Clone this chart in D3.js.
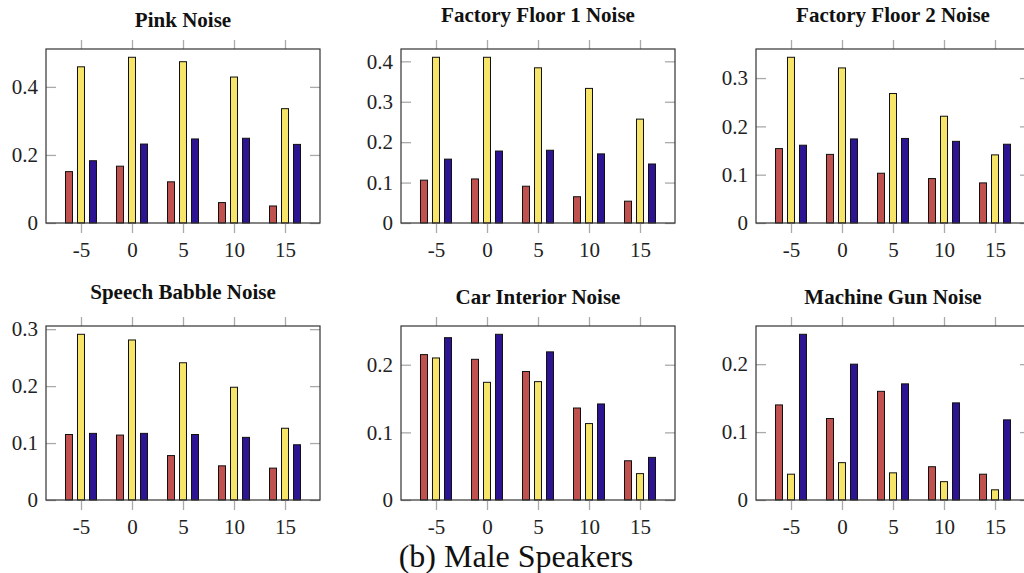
<!DOCTYPE html>
<html>
<head>
<meta charset="utf-8">
<script src="https://cdn.jsdelivr.net/npm/d3@7"></script>
<style>
  body { margin: 0; background: #fff; }
  svg { display: block; }
  svg text { font-family: "Liberation Serif", "Times New Roman", serif; }
</style>
</head>
<body>
<div id="chart"></div>
<script>
// SNR levels on the x axis
const snr = [-5, 0, 5, 10, 15];

const titles = ['Pink Noise', 'Factory Floor 1 Noise', 'Factory Floor 2 Noise',
                'Speech Babble Noise', 'Car Interior Noise', 'Machine Gun Noise'];

// each panel: [red series, yellow series, blue series]
const pinkNoise = [
  [0.151, 0.167, 0.121, 0.060, 0.050],
  [0.459, 0.487, 0.474, 0.429, 0.336],
  [0.183, 0.232, 0.247, 0.249, 0.231]
];
const factory1Noise = [
  [0.106, 0.109, 0.091, 0.065, 0.054],
  [0.410, 0.410, 0.384, 0.333, 0.257],
  [0.158, 0.178, 0.180, 0.171, 0.146]
];
const factory2Noise = [
  [0.154, 0.142, 0.103, 0.092, 0.083],
  [0.343, 0.321, 0.268, 0.221, 0.141],
  [0.161, 0.174, 0.175, 0.169, 0.163]
];
const babbleNoise = [
  [0.115, 0.114, 0.078, 0.060, 0.056],
  [0.291, 0.281, 0.241, 0.198, 0.126],
  [0.117, 0.117, 0.115, 0.110, 0.097]
];
const carNoise = [
  [0.215, 0.208, 0.190, 0.136, 0.058],
  [0.210, 0.174, 0.175, 0.113, 0.039],
  [0.240, 0.245, 0.219, 0.142, 0.063]
];
const machineGunNoise = [
  [0.140, 0.120, 0.160, 0.049, 0.038],
  [0.038, 0.055, 0.040, 0.027, 0.015],
  [0.244, 0.200, 0.171, 0.143, 0.118]
];

const yTicks = [
  [0, 0.2, 0.4],
  [0, 0.1, 0.2, 0.3, 0.4],
  [0, 0.1, 0.2, 0.3],
  [0, 0.1, 0.2, 0.3],
  [0, 0.1, 0.2],
  [0, 0.1, 0.2]
];

const caption = '(b) Male Speakers';

const panels = [pinkNoise, factory1Noise, factory2Noise, babbleNoise, carNoise, machineGunNoise];
const colors = ['#c0514e', '#f6e568', '#2c1493'];

const W = 1024, H = 573;
const colLeft = [46, 401, 756];
const rowTop = [49, 326];
const pw = 274, ph = 174;
const barW = 7, barStep = 12;
const serif = '"Liberation Serif", "Times New Roman", serif';

const svg = d3.select('#chart').append('svg')
  .attr('width', W)
  .attr('height', H);

// measure real glyph descent so titles sit like pgfplots titles
const ctx = document.createElement('canvas').getContext('2d');
ctx.font = `bold 21px ${serif}`;

panels.forEach((series, i) => {
  const left = colLeft[i % 3], top = rowTop[Math.floor(i / 3)];
  const g = svg.append('g').attr('transform', `translate(${left},${top})`);

  const x = d3.scaleLinear().domain([-8.43, 18.43]).range([0, pw]);
  const ymax = d3.max(series, s => d3.max(s)) * 1.05;
  const y = d3.scaleLinear().domain([0, ymax]).range([ph, 0]);

  // bars
  series.forEach((vals, k) => {
    g.append('g').selectAll('rect').data(vals).join('rect')
      .attr('x', (d, j) => x(snr[j]) + (k - 1) * barStep - barW / 2)
      .attr('y', d => y(d))
      .attr('width', barW)
      .attr('height', d => y(0) - y(d))
      .attr('fill', colors[k])
      .attr('stroke', '#111')
      .attr('stroke-width', 1);
  });

  const fmt = d => d === 0 ? '0' : d3.format('.1f')(d);

  // x axis bottom, ticks outward
  g.append('g').attr('transform', `translate(0,${ph})`)
    .call(d3.axisBottom(x).tickValues(snr).tickSize(10).tickPadding(9).tickFormat(d => String(d)));
  // x axis top, ticks outward, no labels
  g.append('g')
    .call(d3.axisTop(x).tickValues(snr).tickSize(9).tickFormat(''));
  // y axis left, ticks inside
  const yl = g.append('g')
    .call(d3.axisLeft(y).tickValues(yTicks[i]).tickSize(-10).tickPadding(8).tickFormat(fmt));
  // y axis right, ticks inside
  g.append('g').attr('transform', `translate(${pw},0)`)
    .call(d3.axisRight(y).tickValues(yTicks[i]).tickSize(-10).tickFormat(''));

  g.selectAll('.domain').remove();
  g.selectAll('g').attr('font-family', null);
  g.selectAll('.tick line').attr('stroke', '#aaa').attr('stroke-width', 1.3);
  g.selectAll('.tick text')
    .style('font-family', serif)
    .attr('font-size', 21)
    .attr('fill', '#222');
  yl.selectAll('.tick text').attr('dy', '0.32em');

  // frame
  g.append('rect')
    .attr('width', pw).attr('height', ph)
    .attr('fill', 'none')
    .attr('stroke', '#333')
    .attr('stroke-width', 1.2);

  // title
  const desc = ctx.measureText(titles[i]).actualBoundingBoxDescent || 0;
  g.append('text')
    .attr('x', pw / 2)
    .attr('y', -22.5 - Math.max(desc, 0))
    .attr('text-anchor', 'middle')
    .style('font-family', serif)
    .attr('font-weight', 'bold')
    .attr('font-size', 21)
    .attr('fill', '#111')
    .text(titles[i]);
});

svg.append('text')
  .attr('x', 516)
  .attr('y', 567)
  .attr('text-anchor', 'middle')
  .style('font-family', serif)
  .attr('font-size', 32)
  .attr('fill', '#111')
  .text(caption);
</script>
</body>
</html>
